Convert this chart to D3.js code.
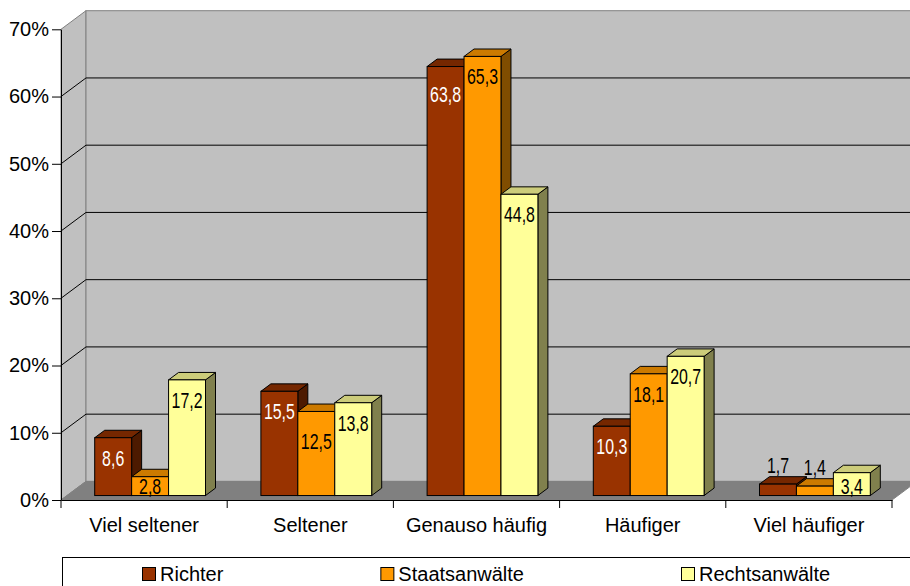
<!DOCTYPE html>
<html>
<head>
<meta charset="utf-8">
<script src="https://cdn.jsdelivr.net/npm/d3@7"></script>
<style>
  html, body { margin: 0; padding: 0; background: #fff; }
  svg { display: block; font-family: "Liberation Sans", Arial, sans-serif; }
</style>
</head>
<body>
<div id="chart"></div>
<script>
// categories and series
var categories = ["Viel seltener", "Seltener", "Genauso häufig", "Häufiger", "Viel häufiger"];
var series = ["Richter", "Staatsanwälte", "Rechtsanwälte"];

// values in percent
var richter = [8.6, 15.5, 63.8, 10.3, 1.7];
var staatsanwaelte = [2.8, 12.5, 65.3, 18.1, 1.4];
var rechtsanwaelte = [17.2, 13.8, 44.8, 20.7, 3.4];

var yTicks = [0, 10, 20, 30, 40, 50, 60, 70];

// colours: front, top, side
var colors = {
  "Richter": ["#993300", "#752700", "#4d1a00"],
  "Staatsanwälte": ["#ff9900", "#cc7a00", "#804d00"],
  "Rechtsanwälte": ["#ffff99", "#cccc7a", "#80804d"]
};
var labelColors = {"Richter": "#fff", "Staatsanwälte": "#000", "Rechtsanwälte": "#000"};

var width = 910, height = 586;

// 3d depth offsets
var DX = 25, DY = 18.6;
var z0 = 0.24, z1 = 0.64;

var svg = d3.select("#chart").append("svg")
  .attr("width", width)
  .attr("height", height);

// scales
var x0 = d3.scaleBand()
  .domain(categories)
  .range([61, 892]);

var bw = x0.bandwidth();
var x1 = d3.scaleBand()
  .domain(series)
  .range([bw / 6, bw * 5 / 6]);

var y = d3.scaleLinear()
  .domain([0, 70])
  .range([500, 29.3]);

// project a point at depth z
function px(x, z) { return x + z * DX; }
function py(v, z) { return y(v) - z * DY; }

function poly(pts) {
  return pts.map(function(p) { return p.join(","); }).join(" ");
}

// walls
var xL = x0.range()[0], xR = x0.range()[1];

svg.append("polygon")
  .attr("points", poly([[xL, y(70)], [px(xL, 1), py(70, 1)], [px(xL, 1), py(0, 1)], [xL, y(0)]]))
  .attr("fill", "#c0c0c0")
  .attr("stroke", "#808080");

svg.append("rect")
  .attr("x", px(xL, 1))
  .attr("y", py(70, 1))
  .attr("width", px(xR, 1) - px(xL, 1))
  .attr("height", py(0, 1) - py(70, 1))
  .attr("fill", "#c0c0c0")
  .attr("stroke", "#808080");

// gridlines on back and left wall
var grid = svg.append("g");
yTicks.filter(function(d) { return d > 0 && d < 70; }).forEach(function(d) {
  grid.append("line")
    .attr("x1", px(xL, 1)).attr("x2", px(xR, 1))
    .attr("y1", py(d, 1)).attr("y2", py(d, 1))
    .attr("stroke", "#000");
  grid.append("line")
    .attr("x1", xL).attr("x2", px(xL, 1))
    .attr("y1", y(d)).attr("y2", py(d, 1))
    .attr("stroke", "#000");
});

// floor
svg.append("polygon")
  .attr("points", poly([[xL, y(0)], [xR, y(0)], [px(xR, 1), py(0, 1)], [px(xL, 1), py(0, 1)]]))
  .attr("fill", "#808080")
  .attr("stroke", "#808080");

// build bar data
var seriesValues = [richter, staatsanwaelte, rechtsanwaelte];
var bars = [];
categories.forEach(function(c, ci) {
  series.forEach(function(s, si) {
    bars.push({cat: c, ci: ci, s: s, si: si, v: seriesValues[si][ci]});
  });
});

var w = x1.bandwidth();
var barG = svg.append("g");

bars.forEach(function(d) {
  var xa = x0(d.cat) + x1(d.s);
  var xb = xa + w;
  var c = colors[d.s];
  var g = barG.append("g");

  // side face
  g.append("polygon")
    .attr("points", poly([[px(xb, z0), py(0, z0)], [px(xb, z0), py(d.v, z0)],
                          [px(xb, z1), py(d.v, z1)], [px(xb, z1), py(0, z1)]]))
    .attr("fill", c[2]).attr("stroke", "#000").attr("stroke-linejoin", "round");

  // top face
  g.append("polygon")
    .attr("points", poly([[px(xa, z0), py(d.v, z0)], [px(xb, z0), py(d.v, z0)],
                          [px(xb, z1), py(d.v, z1)], [px(xa, z1), py(d.v, z1)]]))
    .attr("fill", c[1]).attr("stroke", "#000").attr("stroke-linejoin", "round");

  // front face
  g.append("rect")
    .attr("x", px(xa, z0))
    .attr("y", py(d.v, z0))
    .attr("width", w)
    .attr("height", py(0, z0) - py(d.v, z0))
    .attr("fill", c[0]).attr("stroke", "#000");

  d.cx = px(xa, z0) + w / 2;
  d.top = py(d.v, z0);
  d.base = py(0, z0);
});

// label placement, tallest first, pushed down when next to an overlapping label
var fmt = function(v) { return d3.format(".1f")(v).replace(".", ","); };
categories.forEach(function(c, ci) {
  var grp = bars.filter(function(d) { return d.ci == ci; });
  var placed = [];
  grp.slice().sort(function(a, b) { return a.top - b.top; }).forEach(function(d) {
    var h = d.base - d.top;
    if (h < 16) {
      d.bl = d.top - 11;
    } else {
      d.bl = Math.min(d.top + 28, d.base - 2);
      placed.forEach(function(o) {
        if (Math.abs(o.si - d.si) == 1 && d.bl - 15 < o.bl + 3 && d.bl + 1 > o.bl - 17) {
          d.bl = o.bl + 18;
        }
      });
    }
    placed.push(d);
  });
});

svg.append("g").selectAll("text")
  .data(bars)
  .enter()
  .append("text")
  .attr("transform", function(d) { return "translate(" + d.cx + "," + d.bl + ") scale(0.74,1)"; })
  .attr("text-anchor", "middle")
  .style("font-size", "21.5px")
  .style("fill", function(d) { return d.base - d.top < 16 ? "#000" : labelColors[d.s]; })
  .text(function(d) { return fmt(d.v); });

// y axis
var yAxis = svg.append("g")
  .attr("transform", "translate(" + xL + ",0)")
  .call(d3.axisLeft(y).tickValues(yTicks).tickSize(9).tickSizeOuter(0).tickPadding(3)
    .tickFormat(function(d) { return d + "%"; }));
yAxis.select(".domain").attr("stroke", "#000");
yAxis.selectAll(".tick line").attr("stroke", "#000");
yAxis.selectAll("text")
  .style("font-size", "20px")
  .style("font-family", "'Liberation Sans', Arial, sans-serif")
  .attr("fill", "#000");

// x axis
var xAxis = svg.append("g")
  .attr("transform", "translate(0," + y(0) + ")")
  .call(d3.axisBottom(x0).tickSize(0).tickSizeOuter(0).tickPadding(18));
xAxis.select(".domain").attr("stroke", "#000");
xAxis.selectAll("text")
  .style("font-size", "20px")
  .style("font-family", "'Liberation Sans', Arial, sans-serif")
  .attr("fill", "#000");

// ticks at category boundaries
var bounds = categories.map(function(c) { return x0(c); }).concat([xR]);
xAxis.selectAll(".bound")
  .data(bounds)
  .enter()
  .append("line")
  .attr("class", "bound")
  .attr("x1", function(d) { return d; })
  .attr("x2", function(d) { return d; })
  .attr("y1", 0)
  .attr("y2", 8)
  .attr("stroke", "#000");

// legend
var legend = svg.append("g");
legend.append("rect")
  .attr("x", 62.5)
  .attr("y", 557.5)
  .attr("width", 900)
  .attr("height", 60)
  .attr("fill", "#fff")
  .attr("stroke", "#000");

var lx = 142;
series.forEach(function(s) {
  var item = legend.append("g").attr("transform", "translate(" + lx + ",0)");
  item.append("rect")
    .attr("x", 0.5).attr("y", 567.5)
    .attr("width", 13).attr("height", 13)
    .attr("fill", colors[s][0])
    .attr("stroke", "#000");
  var t = item.append("text")
    .attr("x", 18)
    .attr("y", 581)
    .style("font-size", "20px")
    .attr("fill", "#000")
    .text(s);
  lx += 18 + t.node().getComputedTextLength() + 157;
});
</script>
</body>
</html>
